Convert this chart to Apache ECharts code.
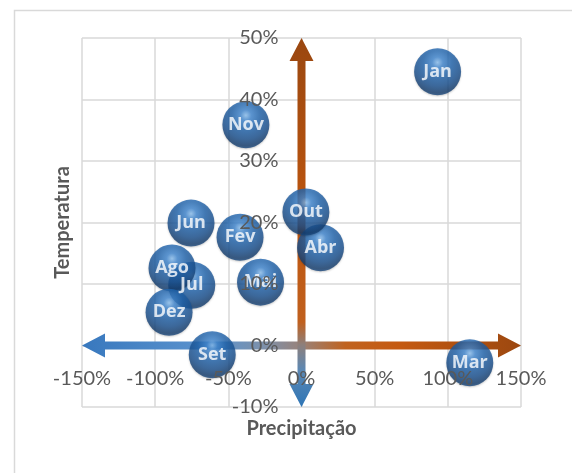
<!DOCTYPE html>
<html>
<head>
<meta charset="utf-8">
<script src="https://cdn.jsdelivr.net/npm/echarts@6/dist/echarts.min.js"></script>
<style>
  html, body { margin: 0; padding: 0; background: #ffffff; }
  #chart { width: 572px; height: 473px; }
</style>
</head>
<body>
<div id="chart"></div>
<script>
// Monthly anomalies (%) — precipitation on x, temperature on y
const months = ['Jan', 'Fev', 'Mar', 'Abr', 'Mai', 'Jun', 'Jul', 'Ago', 'Set', 'Out', 'Nov', 'Dez'];
const precipitation = [93, -42, 115, 13, -28, -75.5, -75, -88.5, -61, 3, -38, -90.5];
const temperature = [44.5, 17.6, -2.8, 15.9, 10.3, 19.9, 9.8, 12.6, -1.5, 21.7, 35.9, 5.4];

// Axis ranges and tick steps
const xRange = [-150, 150, 50];
const yRange = [-10, 50, 10];

// Quadrant arrows (double-headed): [fromX, fromY, toX, toY]
const arrowHorizontal = [-150, 0, 150, 0];
const arrowVertical = [0, -10, 0, 50];

const FONT = 'Lato';
const GRID_COLOR = '#D9D9D9';
const TEXT_COLOR = '#595959';

const chart = echarts.init(document.getElementById('chart'));

// Glossy sphere fill for the bubbles
const bubbleFill = new echarts.graphic.RadialGradient(0.5, 0.3, 0.72, [
  { offset: 0, color: '#8CC0F0' },
  { offset: 0.16, color: '#3F86D0' },
  { offset: 0.42, color: '#1F63AC' },
  { offset: 0.7, color: '#184F8E' },
  { offset: 0.9, color: '#123B6C' },
  { offset: 1, color: '#1A4C85' }
]);

const hStops = [
  { offset: 0, color: '#3878BE' },
  { offset: 0.3, color: '#5D94CE' },
  { offset: 0.42, color: '#7F90A8' },
  { offset: 0.5, color: '#998279' },
  { offset: 0.6, color: '#C0631F' },
  { offset: 0.72, color: '#C55A11' },
  { offset: 1, color: '#9C4810' }
];
const vStops = [
  { offset: 0, color: '#2E75B6' },
  { offset: 0.1, color: '#5C88B4' },
  { offset: 0.17, color: '#8E7F7A' },
  { offset: 0.23, color: '#C0601E' },
  { offset: 0.5, color: '#BE560F' },
  { offset: 1, color: '#9A4710' }
];

// Shaft with an arrowhead at each end
function arrowShape(p0, p1, stops) {
  const dx = p1[0] - p0[0], dy = p1[1] - p0[1];
  const len = Math.sqrt(dx * dx + dy * dy);
  const ux = dx / len, uy = dy / len;
  const nx = -uy, ny = ux;
  const shaft = 4, head = 12, headLen = 23;
  const ax = p0[0] + ux * headLen, ay = p0[1] + uy * headLen;
  const bx = p1[0] - ux * headLen, by = p1[1] - uy * headLen;
  const pts = [
    [p0[0], p0[1]],
    [ax + nx * head, ay + ny * head],
    [ax + nx * shaft, ay + ny * shaft],
    [bx + nx * shaft, by + ny * shaft],
    [bx + nx * head, by + ny * head],
    [p1[0], p1[1]],
    [bx - nx * head, by - ny * head],
    [bx - nx * shaft, by - ny * shaft],
    [ax - nx * shaft, ay - ny * shaft],
    [ax - nx * head, ay - ny * head]
  ];
  return {
    type: 'polygon',
    shape: { points: pts },
    style: {
      fill: new echarts.graphic.LinearGradient(p0[0], p0[1], p1[0], p1[1], stops, true)
    }
  };
}

const gridBox = { left: 82, right: 51, top: 38, bottom: 66, containLabel: false };
const tickLabel = {
  formatter: '{value}%', fontFamily: FONT, fontSize: 20, color: TEXT_COLOR,
  showMinLabel: true, showMaxLabel: true
};

chart.setOption({
  animation: false,
  backgroundColor: '#ffffff',
  graphic: [{
    type: 'rect',
    left: 12, top: 8,
    shape: { width: 700, height: 600 },
    style: { fill: 'none', stroke: GRID_COLOR, lineWidth: 1.5 },
    z: -10
  }],
  // grid 0: gridlines, titles and marks; grid 1 (same box): tick labels crossing at zero
  grid: [Object.assign({}, gridBox), Object.assign({}, gridBox)],
  xAxis: [
    {
      type: 'value', gridIndex: 0,
      min: xRange[0], max: xRange[1], interval: xRange[2],
      axisLine: { show: false, onZero: false },
      axisTick: { show: false },
      axisLabel: { show: false },
      splitLine: { show: true, lineStyle: { color: GRID_COLOR, width: 1.5 } },
      name: 'Precipitação',
      nameLocation: 'middle',
      nameGap: 12,
      nameTextStyle: { fontFamily: FONT, fontSize: 20, fontWeight: 'bold', color: TEXT_COLOR },
      z: 0
    },
    {
      type: 'value', gridIndex: 1, position: 'bottom',
      min: xRange[0], max: xRange[1], interval: xRange[2],
      axisLine: { show: false, onZero: false },
      axisTick: { show: false },
      axisLabel: Object.assign({ margin: 23 }, tickLabel),
      splitLine: { show: false },
      z: 5
    }
  ],
  yAxis: [
    {
      type: 'value', gridIndex: 0,
      min: yRange[0], max: yRange[1], interval: yRange[2],
      axisLine: { show: false, onZero: false },
      axisTick: { show: false },
      axisLabel: { show: false },
      splitLine: { show: true, lineStyle: { color: GRID_COLOR, width: 1.5 } },
      name: 'Temperatura',
      nameLocation: 'middle',
      nameGap: 9,
      nameRotate: 90,
      nameTextStyle: { fontFamily: FONT, fontSize: 20, fontWeight: 'bold', color: TEXT_COLOR },
      z: 0
    },
    {
      type: 'value', gridIndex: 1, position: 'left',
      min: yRange[0], max: yRange[1], interval: yRange[2],
      axisLine: { show: false, onZero: false },
      axisTick: { show: false },
      axisLabel: Object.assign({ margin: 23 }, tickLabel),
      splitLine: { show: false },
      z: 5
    }
  ],
  series: [
    {
      type: 'custom',
      xAxisIndex: 0, yAxisIndex: 0,
      z: 1,
      silent: true,
      data: [arrowHorizontal, arrowVertical],
      renderItem: function (params, api) {
        const p0 = api.coord([api.value(0), api.value(1)]);
        const p1 = api.coord([api.value(2), api.value(3)]);
        return arrowShape(p0, p1, params.dataIndex === 0 ? hStops : vStops);
      }
    },
    {
      type: 'scatter',
      xAxisIndex: 0, yAxisIndex: 0,
      z: 2,
      symbol: 'circle',
      symbolSize: 47,
      data: months.map((m, i) => ({ name: m, value: [precipitation[i], temperature[i]] })),
      itemStyle: {
        color: bubbleFill,
        shadowColor: 'rgba(0,0,0,0.25)',
        shadowBlur: 2,
        shadowOffsetY: 1
      },
      label: {
        show: true,
        position: 'inside',
        formatter: '{b}',
        fontFamily: 'Open Sans',
        fontSize: 18,
        fontWeight: 'bold',
        color: '#ffffff'
      }
    }
  ]
});

// Move the tick-label axes so they cross at zero, using the grid's own scales
const xMinPx = chart.convertToPixel({ xAxisIndex: 0 }, xRange[0]);
const xZeroPx = chart.convertToPixel({ xAxisIndex: 0 }, 0);
const yMinPx = chart.convertToPixel({ yAxisIndex: 0 }, yRange[0]);
const yZeroPx = chart.convertToPixel({ yAxisIndex: 0 }, 0);
chart.setOption({
  xAxis: [{}, { offset: -(yMinPx - yZeroPx) }],
  yAxis: [{}, { offset: -(xZeroPx - xMinPx) }]
});
</script>
</body>
</html>
